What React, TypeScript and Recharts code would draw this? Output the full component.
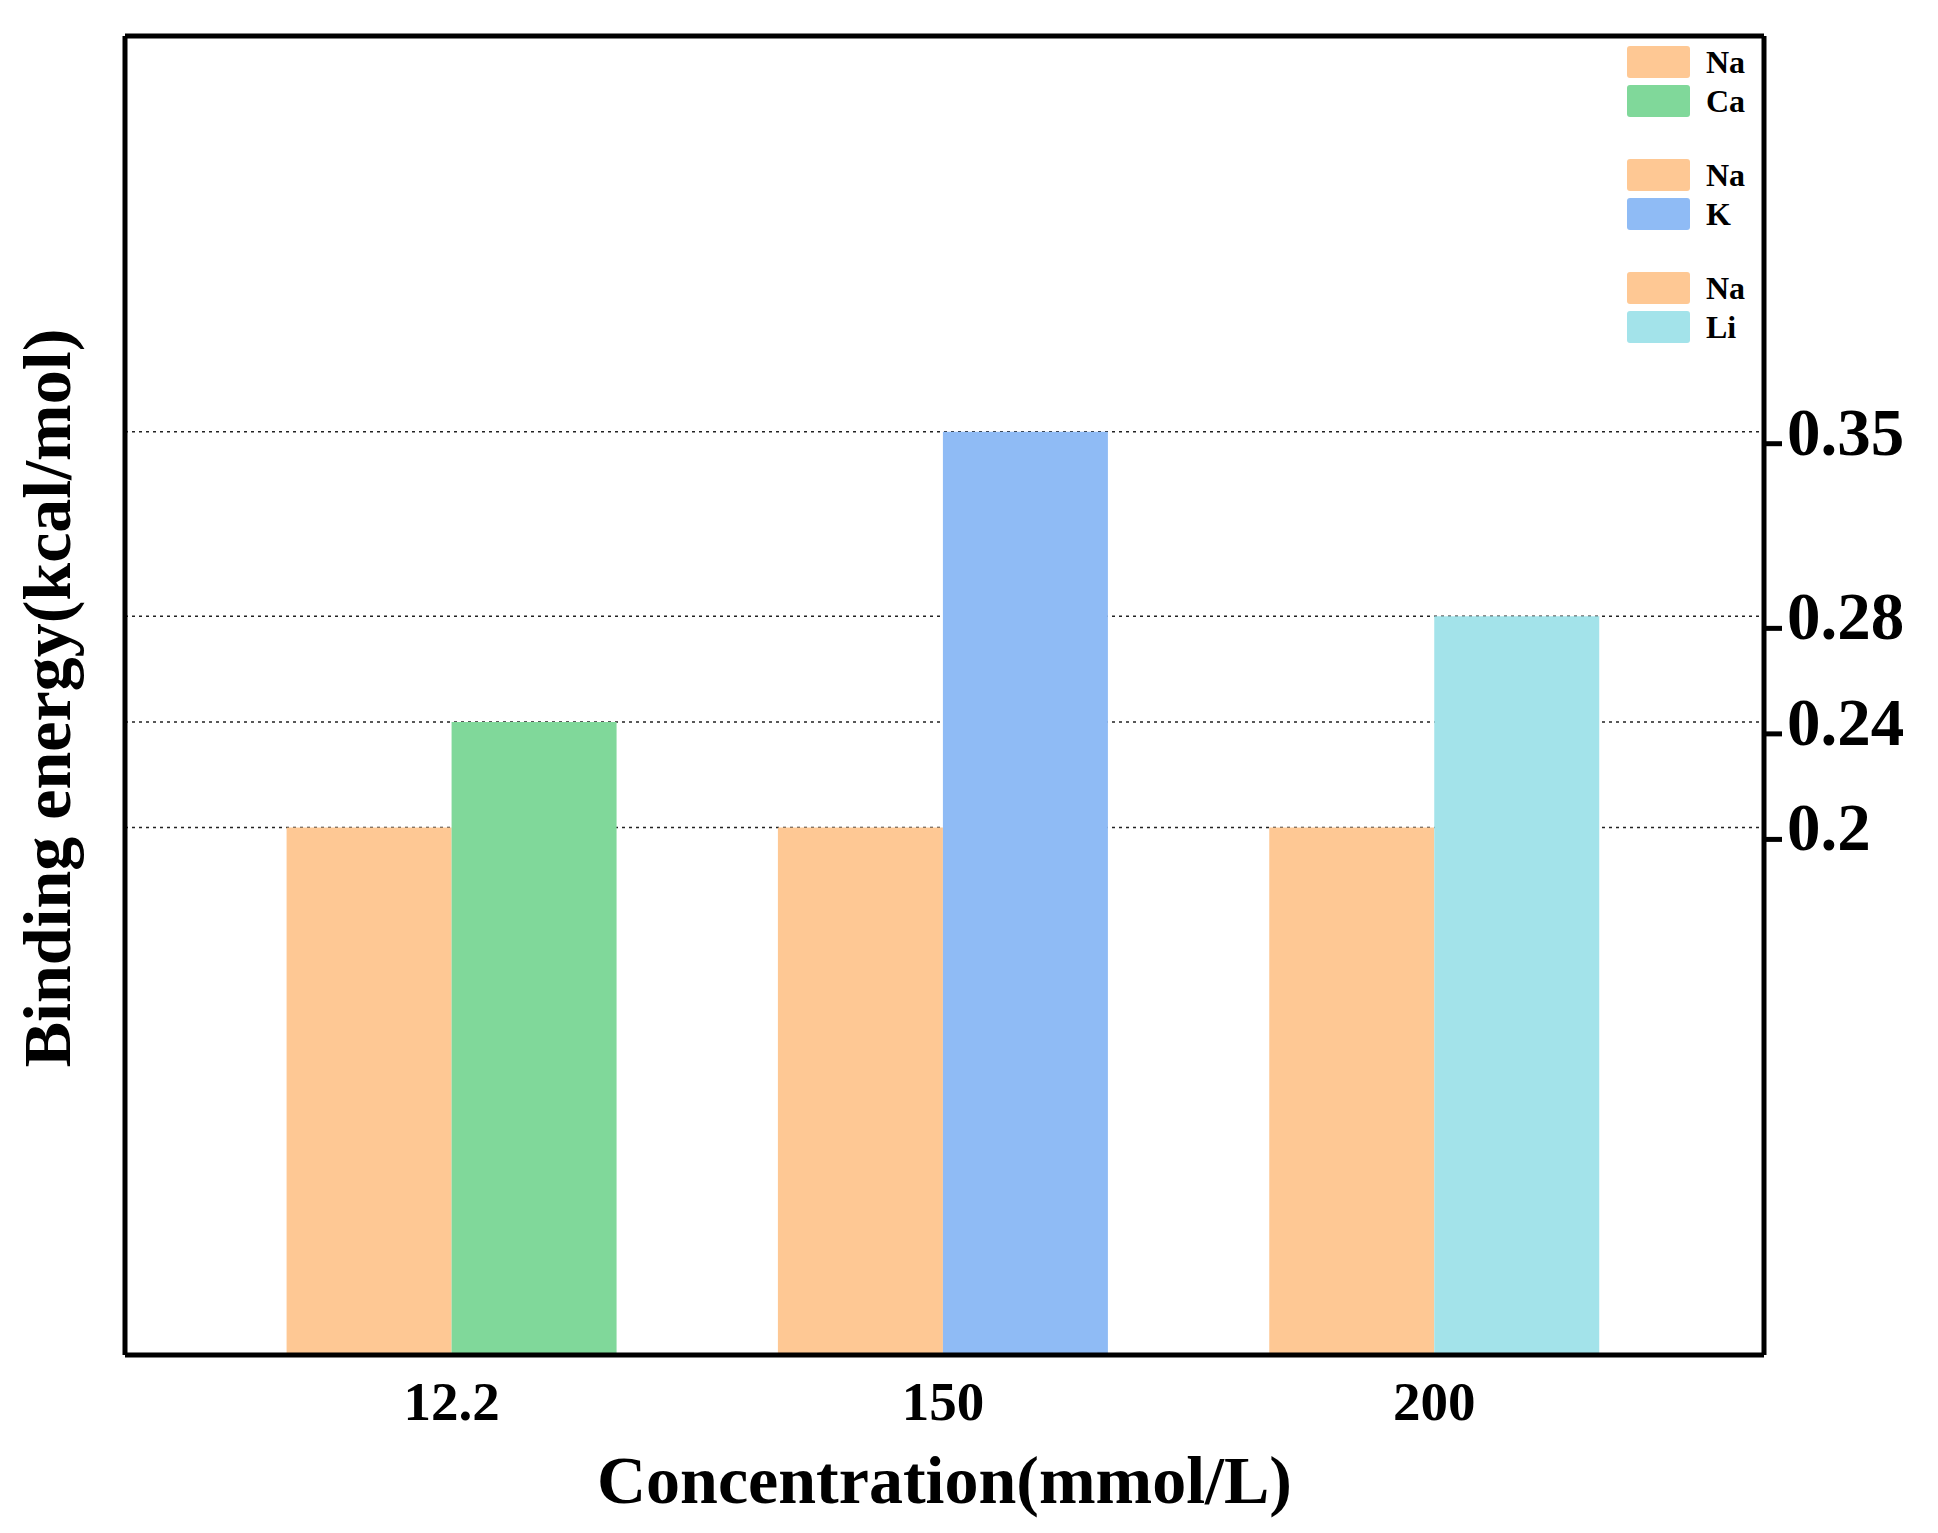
import React from 'react';
import { BarChart, Bar, Cell, XAxis, YAxis, CartesianGrid, Legend, Label } from 'recharts';

const categories = ['12.2', '150', '200'];
const naValues = [0.2, 0.2, 0.2];
const partnerValues = [0.24, 0.35, 0.28];
const partnerNames = ['Ca', 'K', 'Li'];
const partnerColors = ['#80D89A', '#8FBBF5', '#A3E3EA'];
const naColor = '#FEC894';
const yTicks = [0.2, 0.24, 0.28, 0.35];
const yDomain = [0, 0.5];

const FONT = '"Liberation Serif", "Times New Roman", serif';

const data = categories.map((c, i) => ({ conc: c, na: naValues[i], partner: partnerValues[i] }));

// tick marks sit a little below the dotted lines in the original
const YTick = (props: any) => {
  const { x, y, payload } = props;
  const ty = y + 12;
  return (
    <g>
      <line x1={x} y1={ty} x2={x + 18} y2={ty} stroke="#000" strokeWidth={5} />
      <text x={x + 23} y={ty + 11} fontFamily={FONT} fontWeight="bold" fontSize={67} fill="#000">
        {payload.value}
      </text>
    </g>
  );
};

const XTick = (props: any) => {
  const { x, y, payload } = props;
  return (
    <text x={x} y={y + 65} textAnchor="middle" fontFamily={FONT} fontWeight="bold" fontSize={55} fill="#000">
      {payload.value}
    </text>
  );
};

const LegendBox = () => (
  <div style={{ fontFamily: FONT, fontWeight: 'bold', fontSize: 32 }}>
    {partnerNames.map((name, i) => (
      <div key={name} style={{ marginBottom: 42 }}>
        {[{ n: 'Na', c: naColor }, { n: name, c: partnerColors[i] }].map((item, j) => (
          <div key={j} style={{ display: 'flex', alignItems: 'center', height: 32, marginBottom: j === 0 ? 7 : 0 }}>
            <div style={{ width: 63, height: 32, background: item.c, borderRadius: 3 }} />
            <span style={{ marginLeft: 16, lineHeight: '32px' }}>{item.n}</span>
          </div>
        ))}
      </div>
    ))}
  </div>
);

export default function App() {
  return (
    <div style={{ width: 1930, height: 1525, background: '#fff' }}>
      <BarChart
        width={1930}
        height={1525}
        data={data}
        margin={{ top: 28, right: 4, bottom: 8, left: 117 }}
        barGap={0}
        barCategoryGap="16.4%"
      >
        <CartesianGrid vertical={false} horizontalValues={yTicks} stroke="#222" strokeWidth={1.5} strokeDasharray="3 4" />
        {/* top and left edges of the box frame */}
        <CartesianGrid
          horizontalValues={[yDomain[1]]}
          verticalCoordinatesGenerator={(p: any) => [p.offset.left]}
          stroke="#000"
          strokeWidth={5}
        />
        <XAxis
          dataKey="conc"
          height={170}
          padding={{ left: 81, right: 84 }}
          axisLine={{ stroke: '#000', strokeWidth: 5 }}
          tickLine={false}
          tickSize={0}
          tickMargin={0}
          tick={<XTick />}
        >
          <Label
            content={(p: any) => {
              const vb = p.viewBox;
              return (
                <text x={vb.x + vb.width / 2} y={1495} textAnchor="middle" fontFamily={FONT} fontWeight="bold" fontSize={68} fill="#000">
                  Concentration(mmol/L)
                </text>
              );
            }}
          />
        </XAxis>
        <YAxis
          orientation="right"
          width={170}
          domain={yDomain}
          ticks={yTicks}
          interval={0}
          axisLine={{ stroke: '#000', strokeWidth: 5 }}
          tickLine={false}
          tickSize={0}
          tickMargin={0}
          tick={<YTick />}
        >
          {/* title sits on the left of the frame in the original */}
          <Label
            content={() => (
              <text
                x={62}
                y={690}
                textAnchor="middle"
                transform="rotate(-90, 62, 690)"
                fontFamily={FONT}
                fontWeight="bold"
                fontSize={68}
                fill="#000"
              >
                Binding energy(kcal/mol)
              </text>
            )}
          />
        </YAxis>
        <Legend
          layout="vertical"
          align="center"
          verticalAlign="middle"
          wrapperStyle={{ top: 38, left: 1619, width: 160 }}
          content={<LegendBox />}
        />
        <Bar dataKey="na" name="Na" fill={naColor} isAnimationActive={false} />
        <Bar dataKey="partner" name="Partner" isAnimationActive={false}>
          {data.map((d, i) => (
            <Cell key={d.conc} fill={partnerColors[i]} />
          ))}
        </Bar>
      </BarChart>
    </div>
  );
}
